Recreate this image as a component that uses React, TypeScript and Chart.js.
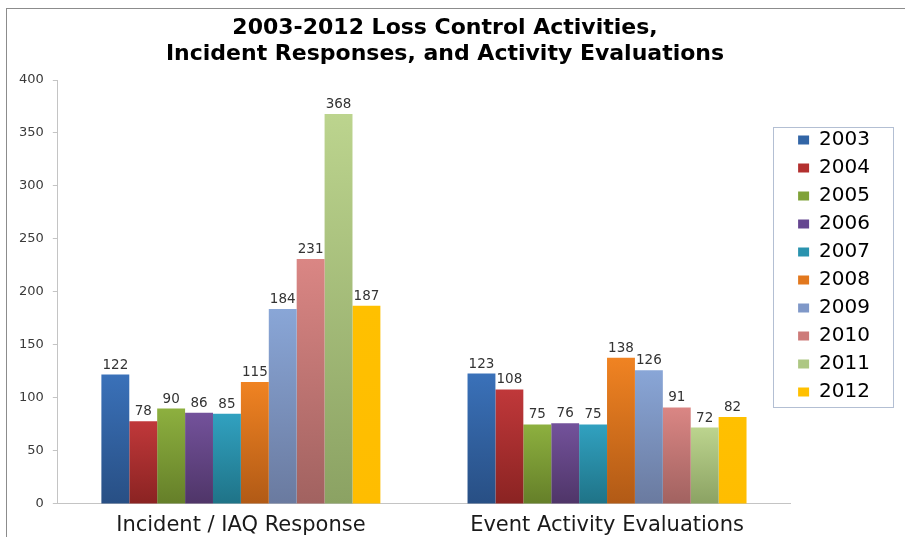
import React, { useEffect, useRef } from "react";
import { Chart, registerables } from "chart.js";

Chart.register(...registerables);

// ---- data ----
const categories = ["Incident / IAQ Response", "Event Activity Evaluations"];
const years = ["2003", "2004", "2005", "2006", "2007", "2008", "2009", "2010", "2011", "2012"];
const v2003 = [122, 123];
const v2004 = [78, 108];
const v2005 = [90, 75];
const v2006 = [86, 76];
const v2007 = [85, 75];
const v2008 = [115, 138];
const v2009 = [184, 126];
const v2010 = [231, 91];
const v2011 = [368, 72];
const v2012 = [187, 82];
const seriesValues = [v2003, v2004, v2005, v2006, v2007, v2008, v2009, v2010, v2011, v2012];
const yMin = 0;
const yMax = 400;
const yStep = 50;
const titleLines = ["2003-2012 Loss Control Activities,", "Incident Responses, and Activity Evaluations"];

// ---- styles ----
const topColors = ["#3a71b9", "#c0383a", "#8db03f", "#73529b", "#31a1c0", "#f08322", "#89a6d7", "#da8684", "#bcd48e", "#ffc000"];
const bottomColors = ["#284f84", "#8a2322", "#657f29", "#4f3568", "#1f7387", "#b15a16", "#6a7a9f", "#a16260", "#8ba263", "#ffbd00"];
const legendColors = ["#3265a6", "#b3302f", "#7fa238", "#654690", "#2a93ae", "#e2781e", "#7f98c8", "#cd7b79", "#adc783", "#ffc000"];

const FONT = "'DejaVu Sans', 'Liberation Sans', Arial, sans-serif";

function barFill(c: any, i: number) {
  const chart = c.chart;
  if (!c || c.type !== "data" || !chart || !chart.chartArea || !chart.scales || !chart.scales.y) {
    return legendColors[i];
  }
  const ys = chart.scales.y;
  const top = ys.getPixelForValue(c.raw);
  const base = ys.getPixelForValue(0);
  if (!isFinite(top) || !isFinite(base) || base - top < 1) return topColors[i];
  const g = chart.ctx.createLinearGradient(0, top, 0, base);
  g.addColorStop(0, topColors[i]);
  g.addColorStop(1, bottomColors[i]);
  return g;
}

const dataLabelPlugin = {
  id: "dataLabels",
  afterDatasetsDraw(chart: any) {
    const ctx = chart.ctx;
    ctx.save();
    ctx.font = `13.5px ${FONT}`;
    ctx.fillStyle = "#333333";
    ctx.textAlign = "center";
    ctx.textBaseline = "alphabetic";
    chart.data.datasets.forEach((ds: any, i: number) => {
      const meta = chart.getDatasetMeta(i);
      meta.data.forEach((el: any, j: number) => {
        ctx.fillText(String(ds.data[j]), el.x, el.y - 6);
      });
    });
    ctx.restore();
  },
};

const legendBorderPlugin = {
  id: "legendBorder",
  afterDraw(chart: any) {
    const lg = chart.legend;
    if (!lg || !lg.legendHitBoxes || !lg.legendHitBoxes.length) return;
    const hb = lg.legendHitBoxes;
    let l = Infinity, t = Infinity, r = -Infinity, b = -Infinity;
    hb.forEach((h: any) => {
      l = Math.min(l, h.left);
      t = Math.min(t, h.top);
      r = Math.max(r, h.left + h.width);
      b = Math.max(b, h.top + h.height);
    });
    const ctx = chart.ctx;
    ctx.save();
    ctx.strokeStyle = "#b3bfd3";
    ctx.lineWidth = 1;
    const x0 = Math.round(l - 25) + 0.5;
    const y0 = Math.round(t - 3) + 0.5;
    const x1 = Math.round(r + 23) + 0.5;
    const y1 = Math.round(b + 5) + 0.5;
    ctx.strokeRect(x0, y0, x1 - x0, y1 - y0);
    ctx.restore();
  },
};

export default function App() {
  const ref = useRef<HTMLCanvasElement>(null);

  useEffect(() => {
    const canvas = ref.current;
    if (!canvas) return;
    const datasets = years.map((yr, i) => ({
      label: yr,
      data: seriesValues[i],
      backgroundColor: (c: any) => barFill(c, i),
      borderWidth: 0,
      barPercentage: 1,
      categoryPercentage: 0.762,
    }));

    const chart = new Chart(canvas, {
      type: "bar",
      data: { labels: categories, datasets },
      options: {
        responsive: false,
        animation: false,
        layout: { padding: { top: -15, left: 10, right: 25, bottom: -10 } },
        plugins: {
          title: {
            display: true,
            text: titleLines,
            color: "#000000",
            font: { family: FONT, size: 22, weight: "bold", lineHeight: "26px" },
            padding: { top: 30, bottom: 13 },
          },
          legend: {
            display: true,
            position: "right",
            align: "center",
            labels: {
              color: "#000000",
              font: { family: FONT, size: 20 },
              boxWidth: 11,
              boxHeight: 9,
              padding: 8,
              generateLabels: (ch: any) =>
                (Chart.defaults.plugins.legend.labels as any).generateLabels(ch).map((it: any) => ({
                  ...it,
                  fillStyle: legendColors[it.datasetIndex],
                  strokeStyle: legendColors[it.datasetIndex],
                  lineWidth: 0,
                })),
            },
          },
          tooltip: { enabled: false },
        },
        scales: {
          x: {
            grid: { display: false, drawTicks: false, tickLength: 0 },
            border: { display: true, color: "#c4c4c4", width: 1 },
            ticks: {
              color: "#1a1a1a",
              font: { family: FONT, size: 21, lineHeight: 1.1 },
              padding: 10,
            },
          },
          y: {
            min: yMin,
            max: yMax,
            grid: { display: true, drawOnChartArea: false, drawTicks: true, tickLength: 5, color: "#c4c4c4" },
            border: { display: true, color: "#c4c4c4", width: 1 },
            ticks: {
              stepSize: yStep,
              color: "#3a3a3a",
              font: { family: FONT, size: 13 },
              padding: 9,
            },
          },
        },
      },
      plugins: [dataLabelPlugin, legendBorderPlugin],
    } as any);

    return () => chart.destroy();
  }, []);

  return (
    <div style={{ position: "absolute", left: 0, top: 0, width: 905, height: 537, background: "#ffffff", overflow: "hidden" }}>
      <div
        style={{
          position: "absolute",
          left: 6,
          top: 8,
          right: -2,
          bottom: -2,
          borderTop: "1.5px solid #8c8c8c",
          borderLeft: "1.5px solid #8c8c8c",
        }}
      />
      <canvas ref={ref} width={905} height={537} style={{ position: "absolute", left: 0, top: 0 }} />
    </div>
  );
}
